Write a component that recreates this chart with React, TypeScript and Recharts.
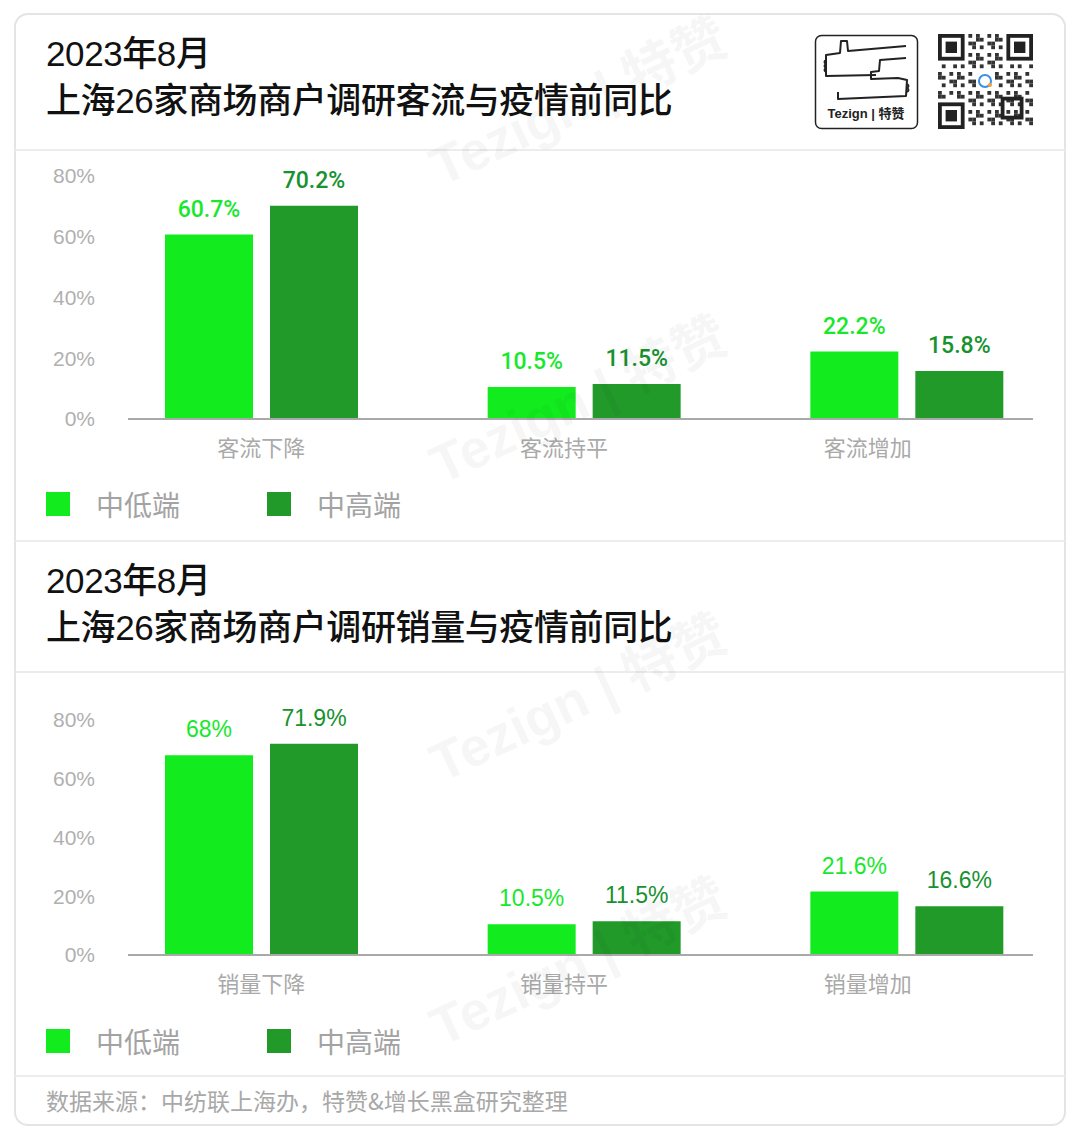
import React from 'react';
import { BarChart, Bar, XAxis, YAxis, LabelList, ReferenceLine } from 'recharts';

const trafficCategories = ['客流下降', '客流持平', '客流增加'];
const trafficLow = [60.7, 10.5, 22.2];
const trafficHigh = [70.2, 11.5, 15.8];

const salesCategories = ['销量下降', '销量持平', '销量增加'];
const salesLow = [68, 10.5, 21.6];
const salesHigh = [71.9, 11.5, 16.6];

const yTicks = [0, 20, 40, 60, 80];
const seriesNames = ['中低端', '中高端'];

const LIGHT = '#12ec1f';
const DARK = '#229a2a';
const LIGHT_TEXT = '#17e82c';
const DARK_TEXT = '#17922f';
const GRAY = '#a9a9a9';
const LATIN = "'Liberation Sans', 'Noto Sans CJK SC', sans-serif";
const CJK = "'Noto Sans CJK SC', 'Liberation Sans', sans-serif";

const trafficData = trafficCategories.map((name, i) => ({ name, low: trafficLow[i], high: trafficHigh[i] }));
const salesData = salesCategories.map((name, i) => ({ name, low: salesLow[i], high: salesHigh[i] }));

// original labels sit a bit left of the bar groups
const tickShift = [0, -20, -39];

const CatTick = (props: any) => {
  const { x, y, payload, index } = props;
  return (
    <text x={x + tickShift[index]} y={y + 29} textAnchor="middle" fill={GRAY} fontSize={22} fontFamily={CJK}>
      {payload.value}
    </text>
  );
};

const AxisLine = (p: any) => (
  <line x1={p.x1 + 28} y1={p.y1} x2={p.x2 - 35} y2={p.y2} stroke={GRAY} strokeWidth={2} />
);

interface PanelProps {
  data: { name: string; low: number; high: number }[];
  top: number;
  marginTop: number;
  marginBottom: number;
  labelWeight: number;
  labelFont: string;
}

function Panel({ data, top, marginTop, marginBottom, labelWeight, labelFont }: PanelProps) {
  const fmt = (v: any) => `${v}%`;
  return (
    <div style={{ position: 'absolute', left: 0, top }}>
      <BarChart
        width={1080}
        height={320}
        data={data}
        margin={{ top: marginTop, right: 12, left: 40, bottom: marginBottom }}
        barSize={88}
        barGap={17}
      >
        <XAxis dataKey="name" axisLine={false} tickLine={false} height={40} tick={<CatTick />} interval={0} />
        <YAxis
          width={60}
          domain={[0, 80]}
          ticks={yTicks}
          axisLine={false}
          tickLine={false}
          tickSize={3}
          tickMargin={2}
          tickFormatter={fmt}
          tick={{ fill: '#b0b0b0', fontSize: 21, fontFamily: LATIN }}
        />
        <Bar dataKey="low" fill={LIGHT} isAnimationActive={false}>
          <LabelList
            dataKey="low"
            position="top"
            offset={18}
            formatter={fmt}
            fill={LIGHT_TEXT}
            fontSize={23}
            fontWeight={labelWeight}
            fontFamily={labelFont}
          />
        </Bar>
        <Bar dataKey="high" fill={DARK} isAnimationActive={false}>
          <LabelList
            dataKey="high"
            position="top"
            offset={18}
            formatter={fmt}
            fill={DARK_TEXT}
            fontSize={23}
            fontWeight={labelWeight}
            fontFamily={labelFont}
          />
        </Bar>
        <ReferenceLine y={0} shape={<AxisLine />} />
      </BarChart>
    </div>
  );
}

function Legend({ top }: { top: number }) {
  const items = [
    { name: seriesNames[0], color: LIGHT, x: 46 },
    { name: seriesNames[1], color: DARK, x: 267 },
  ];
  return (
    <>
      {items.map((it) => (
        <div key={it.name} style={{ position: 'absolute', left: it.x, top, height: 26, display: 'flex', alignItems: 'center' }}>
          <div style={{ width: 24, height: 24, background: it.color }} />
          <span style={{ marginLeft: 26, fontSize: 28, color: '#a3a3a3', fontFamily: CJK, lineHeight: '26px' }}>{it.name}</span>
        </div>
      ))}
    </>
  );
}

function Title({ top, line2 }: { top: number; line2: string }) {
  const st: React.CSSProperties = {
    position: 'absolute',
    left: 46,
    fontSize: 35,
    fontWeight: 500,
    color: '#111',
    fontFamily: LATIN,
    lineHeight: '40px',
    whiteSpace: 'nowrap',
    letterSpacing: -0.4,
  };
  return (
    <>
      <div style={{ ...st, top }}>2023年8月</div>
      <div style={{ ...st, top: top + 47 }}>{line2}</div>
    </>
  );
}

function Logo() {
  return (
    <svg width={105} height={96} style={{ position: 'absolute', left: 814, top: 34 }}>
      <rect x={1.5} y={1.5} width={102} height={93} rx={6} fill="#fff" stroke="#222" strokeWidth={1.5} />
      <g fill="none" stroke="#222" strokeWidth={2} strokeLinejoin="round">
        <path d="M92 12 L34 17 L33 7 L27 7 L26 19 L12 21 L12 42 L62 41" />
        <path d="M12 26 Q9 28 12 30 Q9 32 12 34 Q9 36 12 38" />
        <path d="M92 24 L66 26 L65 37 L57 38 L57 45 L84 44 L93 46 L92 62 L24 65 L24 58" />
        <path d="M93 50 Q96 52 93 54 Q96 56 93 58" />
      </g>
      <text x={52} y={84} textAnchor="middle" fontSize={13} fontWeight={700} fill="#222" fontFamily={LATIN}>
        Tezign | 特赞
      </text>
    </svg>
  );
}

function QRCode() {
  const n = 25;
  const s = 95 / n;
  const cells: React.ReactNode[] = [];
  const inFinder = (i: number, j: number) =>
    (i < 8 && j < 8) || (i < 8 && j > n - 9) || (i > n - 9 && j < 8);
  for (let i = 0; i < n; i++) {
    for (let j = 0; j < n; j++) {
      if (inFinder(i, j)) continue;
      if (i > 9 && i < 15 && j > 9 && j < 15) continue;
      if (((i * 31 + j * 17 + i * j * 7) % 5) < 2) {
        cells.push(<rect key={`${i}-${j}`} x={j * s} y={i * s} width={s} height={s} fill="#333" />);
      }
    }
  }
  const finder = (x: number, y: number) => (
    <g key={`f${x}-${y}`}>
      <rect x={x * s + s / 2} y={y * s + s / 2} width={6 * s} height={6 * s} fill="none" stroke="#222" strokeWidth={s} />
      <rect x={(x + 2) * s} y={(y + 2) * s} width={3 * s} height={3 * s} fill="#222" />
    </g>
  );
  return (
    <svg width={96} height={96} style={{ position: 'absolute', left: 938, top: 34 }}>
      <rect width={96} height={96} fill="#fff" />
      {cells}
      {finder(0, 0)}
      {finder(n - 7, 0)}
      {finder(0, n - 7)}
      <rect x={17 * s} y={17 * s} width={5 * s} height={5 * s} fill="none" stroke="#222" strokeWidth={s} />
      <circle cx={47} cy={47} r={6} fill="none" stroke="#3a8ee6" strokeWidth={2} />
      <circle cx={52} cy={51} r={2} fill="#f0a030" />
    </svg>
  );
}

function Watermarks() {
  const rowTops = [140, 438, 736, 1000];
  return (
    <div style={{ position: 'absolute', left: 0, top: 0, width: 1080, height: 1138, overflow: 'hidden', pointerEvents: 'none' }}>
      {rowTops.map((t) => (
        <div
          key={t}
          style={{
            position: 'absolute',
            left: 445,
            top: t,
            fontSize: 54,
            lineHeight: '54px',
            fontWeight: 700,
            color: 'rgba(0,0,0,0.035)',
            fontFamily: LATIN,
            transform: 'rotate(-25deg)',
            transformOrigin: 'left bottom',
            whiteSpace: 'nowrap',
          }}
        >
          Tezign | 特赞
        </div>
      ))}
    </div>
  );
}

export default function App() {
  const divider = (y: number) => (
    <div style={{ position: 'absolute', left: 15, top: y, width: 1050, height: 2, background: '#ececec' }} />
  );
  return (
    <div style={{ position: 'absolute', left: 0, top: 0, width: 1080, height: 1138, background: '#fff', overflow: 'hidden' }}>
      <div
        style={{
          position: 'absolute',
          left: 14,
          top: 13,
          width: 1048,
          height: 1109,
          border: '2px solid #e4e4e4',
          borderRadius: 14,
        }}
      />
      <Title top={34} line2="上海26家商场商户调研客流与疫情前同比" />
      <Logo />
      <QRCode />
      {divider(149)}
      <Panel data={trafficData} top={150} marginTop={26} marginBottom={11} labelWeight={500} labelFont="Roboto, 'Liberation Sans', sans-serif" />
      <Legend top={491} />
      {divider(540)}
      <Title top={561} line2="上海26家商场商户调研销量与疫情前同比" />
      {divider(671)}
      <Panel data={salesData} top={680} marginTop={40} marginBottom={5} labelWeight={400} labelFont={LATIN} />
      <Legend top={1028} />
      {divider(1075)}
      <div style={{ position: 'absolute', left: 46, top: 1086, fontSize: 23, color: '#a8a8a8', fontFamily: CJK, lineHeight: '28px', whiteSpace: 'nowrap' }}>
        数据来源：中纺联上海办，特赞&增长黑盒研究整理
      </div>
      <Watermarks />
    </div>
  );
}
